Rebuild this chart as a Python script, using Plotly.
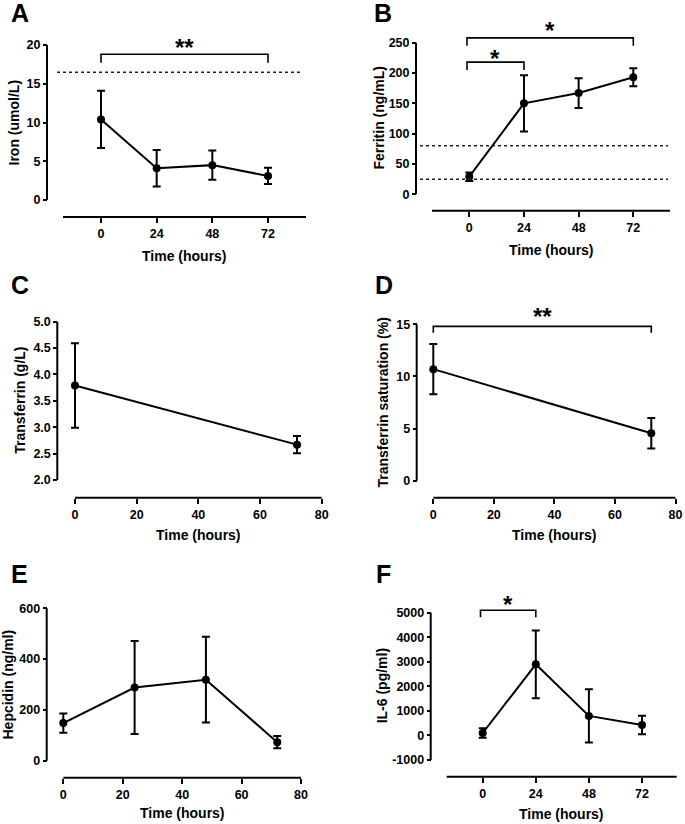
import plotly.graph_objects as go

W, H = 685, 824
FONT = "Liberation Sans, Arial, sans-serif"
BLACK = "#000000"

# ---------------- data ----------------
time_4 = [0, 24, 48, 72]
time_2 = [0, 72]

iron_mean = [10.4, 4.1, 4.5, 3.1]
iron_err = [3.7, 2.35, 1.9, 1.05]
iron_ref = [16.5]

ferritin_mean = [29, 150, 167, 193]
ferritin_err = [7, 46.5, 24.5, 15]
ferritin_ref = [80, 25]

transferrin_mean = [3.79, 2.67]
transferrin_err = [0.80, 0.165]

tsat_mean = [10.7, 4.55]
tsat_err = [2.4, 1.47]

hepcidin_mean = [148, 288, 319, 73]
hepcidin_err = [38, 183, 169, 24]

il6_mean = [100, 2896, 797, 424]
il6_err = [190, 1377, 1080, 379]

# tick values
ticks_time_cat = [0, 24, 48, 72]
ticks_time_lin = [0, 20, 40, 60, 80]
ticks_iron = [0, 5, 10, 15, 20]
ticks_ferritin = [0, 50, 100, 150, 200, 250]
ticks_transferrin = [2.0, 2.5, 3.0, 3.5, 4.0, 4.5, 5.0]
ticks_tsat = [0, 5, 10, 15]
ticks_hepcidin = [0, 200, 400, 600]
ticks_il6 = [-1000, 0, 1000, 2000, 3000, 4000, 5000]

# significance brackets: (x_start, x_end, leg_y, top_y, label, label_y)
sig_iron = [(0, 72, 17.7, 18.8, "**", 20.3)]
sig_ferritin = [(-1, 72, 245, 258, "*", 279), (-1, 24, 205, 218, "*", 233)]
sig_tsat = [(0, 72, 14.2, 14.8, "**", 16.2)]
sig_il6 = [(-1, 24, 4810, 5100, "*", 5540)]

# ---------------- layout geometry (pixels) ----------------
panels = [
    dict(letter="A", letter_xy=(20, 13), ytitle="Iron (umol/L)", ytitle_x=13, xtitle_y=256,
         yax_px=47, ycal=((0, 200), (20, 45)), xcal=((0, 101), (72, 268)),
         xline=(63, 306), xline_py=217, dom_x=(50, 310), top_py=28,
         x=time_4, y=iron_mean, err=iron_err, xt=ticks_time_cat, yt=ticks_iron,
         yfmt=lambda v: str(v), refs=iron_ref, ref_span=(57, 302), sig=sig_iron),
    dict(letter="B", letter_xy=(383, 13), ytitle="Ferritin (ng/mL)", ytitle_x=378, xtitle_y=250,
         yax_px=416, ycal=((0, 194.3), (250, 42.7)), xcal=((0, 469.3), (72, 633.3)),
         xline=(432, 670), xline_py=210.7, dom_x=(419, 675), top_py=15,
         x=time_4, y=ferritin_mean, err=ferritin_err, xt=ticks_time_cat, yt=ticks_ferritin,
         yfmt=lambda v: str(v), refs=ferritin_ref, ref_span=(420, 668), sig=sig_ferritin),
    dict(letter="C", letter_xy=(20, 285), ytitle="Transferrin (g/L)", ytitle_x=20, xtitle_y=535,
         yax_px=57.3, ycal=((2, 480), (5, 321.7)), xcal=((0, 75), (80, 321.7)),
         xline=(75, 321.7), xline_py=497.7, dom_x=(60, 330), top_py=300,
         x=time_2, y=transferrin_mean, err=transferrin_err, xt=ticks_time_lin, yt=ticks_transferrin,
         yfmt=lambda v: f"{v:.1f}", refs=[], ref_span=None, sig=[]),
    dict(letter="D", letter_xy=(384, 285), ytitle="Transferrin saturation (%)", ytitle_x=382, xtitle_y=535,
         yax_px=416.7, ycal=((0, 480.7), (15, 324.3)), xcal=((0, 433.3), (80, 675.5)),
         xline=(433.3, 675.5), xline_py=497.7, dom_x=(419, 684), top_py=300,
         x=time_2, y=tsat_mean, err=tsat_err, xt=ticks_time_lin, yt=ticks_tsat,
         yfmt=lambda v: str(v), refs=[], ref_span=None, sig=sig_tsat),
    dict(letter="E", letter_xy=(19, 574), ytitle="Hepcidin (ng/ml)", ytitle_x=7, xtitle_y=813,
         yax_px=46.7, ycal=((0, 760.7), (600, 608.3)), xcal=((0, 63.3), (80, 301)),
         xline=(63.3, 301), xline_py=777.7, dom_x=(49, 310), top_py=595,
         x=time_4, y=hepcidin_mean, err=hepcidin_err, xt=ticks_time_lin, yt=ticks_hepcidin,
         yfmt=lambda v: str(v), refs=[], ref_span=None, sig=[]),
    dict(letter="F", letter_xy=(383, 574), ytitle="IL-6 (pg/ml)", ytitle_x=382, xtitle_y=814,
         yax_px=430.7, ycal=((-1000, 760), (5000, 612.7)), xcal=((0, 482.7), (72, 642)),
         xline=(446.7, 676.7), xline_py=776.7, dom_x=(433, 684), top_py=590,
         x=time_4, y=il6_mean, err=il6_err, xt=ticks_time_cat, yt=ticks_il6,
         yfmt=lambda v: str(v), refs=[], ref_span=None, sig=sig_il6),
]


def inv(cal):
    (v0, p0), (v1, p1) = cal
    s = (p1 - p0) / (v1 - v0)
    return lambda p: v0 + (p - p0) / s


fig = go.Figure()
layout = dict(width=W, height=H, margin=dict(l=0, r=0, t=0, b=0),
              paper_bgcolor="white", plot_bgcolor="rgba(0,0,0,0)",
              showlegend=False, font=dict(family=FONT, color=BLACK))
shapes, annotations = [], []
tickfont = dict(family=FONT, size=12.5, color=BLACK, weight="bold")

for i, p in enumerate(panels):
    n = "" if i == 0 else str(i + 1)
    xr, yr = "x" + n, "y" + n
    fx, fy = inv(p["xcal"]), inv(p["ycal"])
    ybot = p["xline_py"]
    ytop = p["top_py"]
    dx0, dx1 = p["dom_x"]

    layout["xaxis" + n] = dict(
        domain=[dx0 / W, dx1 / W], range=[fx(dx0), fx(dx1)],
        anchor="free", position=1 - ybot / H,
        tickvals=p["xt"], ticktext=[str(v) for v in p["xt"]],
        ticks="outside", ticklen=5, tickwidth=2, tickcolor=BLACK,
        showline=False, showgrid=False, zeroline=False, tickfont=tickfont,
        fixedrange=True)
    layout["yaxis" + n] = dict(
        domain=[1 - ybot / H, 1 - ytop / H], range=[fy(ybot), fy(ytop)],
        anchor="free", position=p["yax_px"] / W,
        tickvals=p["yt"], ticktext=[p["yfmt"](v) for v in p["yt"]],
        ticks="outside", ticklen=4, tickwidth=2, tickcolor=BLACK,
        showline=False, showgrid=False, zeroline=False, tickfont=tickfont,
        fixedrange=True)

    # axis lines (GraphPad style, detached)
    shapes.append(dict(type="line", xref=xr, yref="paper",
                       x0=fx(p["xline"][0]), x1=fx(p["xline"][1]),
                       y0=1 - ybot / H, y1=1 - ybot / H,
                       line=dict(color=BLACK, width=2)))
    shapes.append(dict(type="line", xref="paper", yref=yr,
                       x0=p["yax_px"] / W, x1=p["yax_px"] / W,
                       y0=min(p["yt"]), y1=max(p["yt"]),
                       line=dict(color=BLACK, width=2)))

    # reference (normal range) lines
    for rv in p["refs"]:
        shapes.append(dict(type="line", xref=xr, yref=yr,
                           x0=fx(p["ref_span"][0]), x1=fx(p["ref_span"][1]),
                           y0=rv, y1=rv,
                           line=dict(color="#222222", width=1.5, dash="dot")))

    # data
    fig.add_trace(go.Scatter(
        x=p["x"], y=p["y"], mode="lines+markers", xaxis=xr, yaxis=yr,
        line=dict(color=BLACK, width=2),
        marker=dict(size=8, color=BLACK),
        error_y=dict(type="data", array=p["err"], visible=True,
                     color=BLACK, thickness=2, width=4),
        cliponaxis=False, hoverinfo="skip"))

    # significance brackets
    for (xa, xb, leg, top, lab, ly) in p["sig"]:
        fig.add_trace(go.Scatter(
            x=[xa, xa, xb, xb], y=[leg, top, top, leg], mode="lines",
            xaxis=xr, yaxis=yr, line=dict(color=BLACK, width=1.6),
            hoverinfo="skip"))
        annotations.append(dict(xref=xr, yref=yr, x=(xa + xb) / 2, y=ly,
                                text=lab, showarrow=False, yshift=-5,
                                font=dict(family=FONT, size=24, color=BLACK, weight="bold")))

    # titles
    cx = (p["xline"][0] + p["xline"][1]) / 2
    annotations.append(dict(xref="paper", yref="paper", x=cx / W,
                            y=1 - p["xtitle_y"] / H, text="Time (hours)",
                            showarrow=False, xanchor="center", yanchor="middle",
                            font=dict(family=FONT, size=14, color=BLACK, weight="bold")))
    ycen = (p["ycal"][0][1] + p["ycal"][1][1]) / 2
    annotations.append(dict(xref="paper", yref="paper", x=p["ytitle_x"] / W,
                            y=1 - ycen / H, text=p["ytitle"], textangle=-90,
                            showarrow=False, xanchor="center", yanchor="middle",
                            font=dict(family=FONT, size=14, color=BLACK, weight="bold")))
    lx, ly2 = p["letter_xy"]
    annotations.append(dict(xref="paper", yref="paper", x=lx / W, y=1 - ly2 / H,
                            text=p["letter"], showarrow=False,
                            xanchor="center", yanchor="middle",
                            font=dict(family=FONT, size=25, color=BLACK, weight="bold")))

layout["shapes"] = shapes
layout["annotations"] = annotations
fig.update_layout(**layout)
fig.write_html("out.html", config={"displayModeBar": False, "staticPlot": True},
               post_script="document.body.style.margin='0px';document.body.style.overflow='hidden';")
